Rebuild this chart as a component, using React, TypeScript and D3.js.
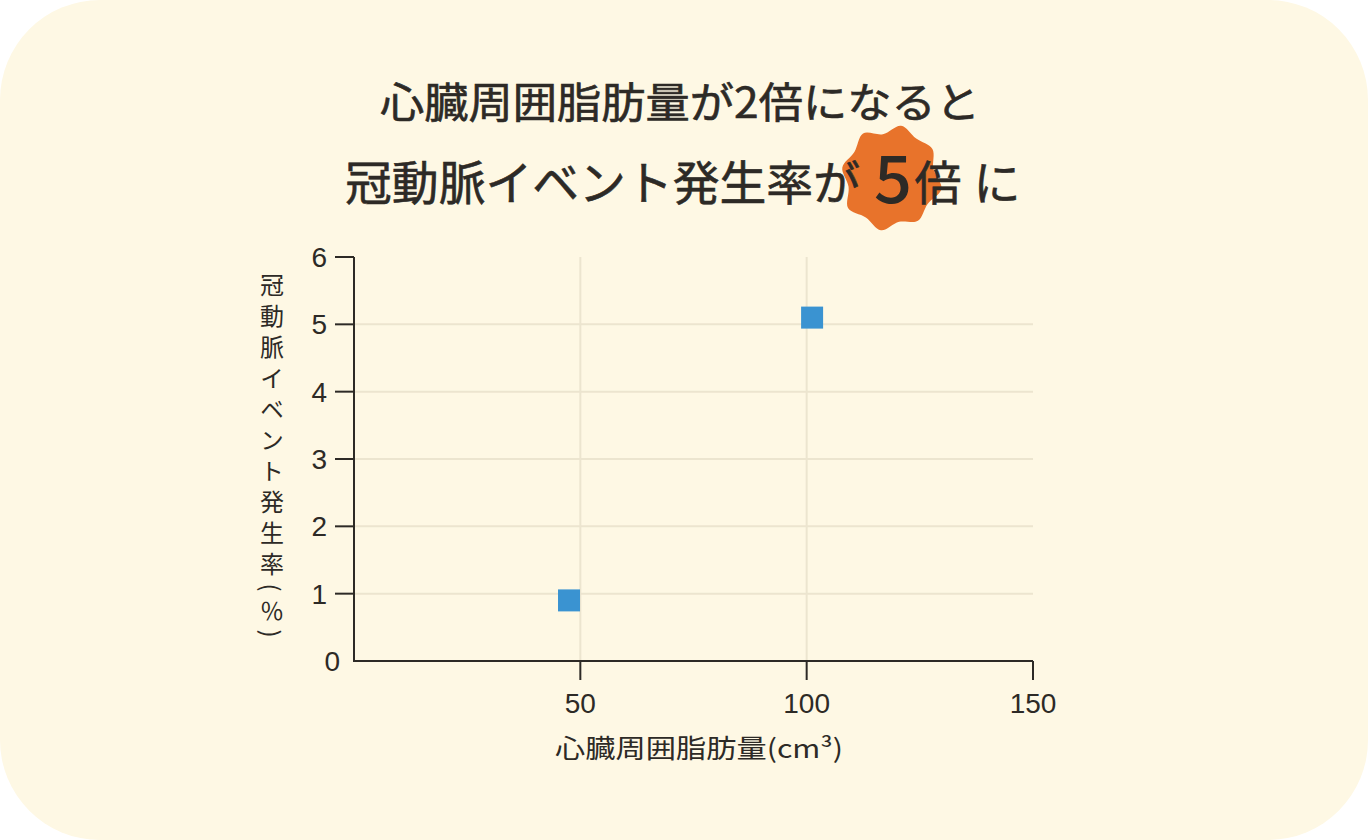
import React from 'react';
import * as d3 from 'd3';

// data
const points = [
  { fat: 47.5, rate: 0.9 },
  { fat: 101.2, rate: 5.1 },
];
const xTicks = [50, 100, 150];
const yTicks = [0, 1, 2, 3, 4, 5, 6];
const xGrid = [50, 100];
const yGrid = [1, 2, 3, 4, 5];

const titleLine1 = '心臓周囲脂肪量が2倍になると';
const titleLine2 = '冠動脈イベント発生率が';
const xLabel = '心臓周囲脂肪量(cm³)';
const yLabel = '冠動脈イベント発生率(％)';

// wobbly badge outline behind the "5"
const blobRadii = [55, 49, 54, 47, 56, 48, 53, 46, 55, 49, 56, 47, 54, 48, 55, 46];

const W = 1368;
const H = 840;
const left = 354;
const right = 1033;
const top = 257;
const bottom = 661;

const ink = '#2d2a26';
const gridColor = '#ece5cf';
const font = "'Noto Sans CJK JP', 'Noto Sans', sans-serif";
const numFont = "'Liberation Sans', Arial, sans-serif";

const App: React.FC = () => {
  const x = d3.scaleLinear().domain([0, 150]).range([left, right]);
  const y = d3.scaleLinear().domain([0, 6]).range([bottom, top]);

  const blob = d3
    .lineRadial<number>()
    .angle((d, i) => (i / blobRadii.length) * Math.PI * 2 + 0.2)
    .radius(d => d)
    .curve(d3.curveCatmullRomClosed.alpha(0.5))(blobRadii);

  const sq = 22;

  return (
    <svg width={W} height={H} style={{ position: 'absolute', left: 0, top: 0 }}>
      <rect x={0} y={0} width={W} height={H} fill="#ffffff" />
      <rect x={0} y={0} width={W} height={H} rx={100} ry={100} fill="#fef8e4" />

      {/* title */}
      <text x={680} y={118} textAnchor="middle" fontFamily={font} fontSize={42}
        fill={ink} textLength={600} lengthAdjust="spacingAndGlyphs"
        stroke={ink} strokeWidth={0.6}>
        {titleLine1}
      </text>
      <path d={blob || ''} transform="translate(891,178) scale(0.92,0.97)" fill="#e8732b" />
      <text x={345} y={200} fontFamily={font} fontSize={47} fill={ink}
        textLength={515} lengthAdjust="spacingAndGlyphs" stroke={ink} strokeWidth={0.6}>
        {titleLine2}
      </text>
      <text x={893} y={203} textAnchor="middle" fontFamily={font} fontSize={66} fontWeight={500}
        fill={ink} textLength={38} lengthAdjust="spacingAndGlyphs">
        5
      </text>
      <text x={938} y={200} textAnchor="middle" fontFamily={font} fontSize={47} fill={ink}
        stroke={ink} strokeWidth={0.6}>
        倍
      </text>
      <text x={997} y={200} textAnchor="middle" fontFamily={font} fontSize={47} fill={ink}
        stroke={ink} strokeWidth={0.6}>
        に
      </text>

      {/* grid */}
      {yGrid.map(v => (
        <line key={'gy' + v} x1={left} x2={right} y1={y(v)} y2={y(v)}
          stroke={gridColor} strokeWidth={2} />
      ))}
      {xGrid.map(v => (
        <line key={'gx' + v} x1={x(v)} x2={x(v)} y1={top} y2={bottom}
          stroke={gridColor} strokeWidth={2} />
      ))}

      {/* axes */}
      <path d={`M${left},${top}V${bottom}H${right}`} fill="none" stroke={ink} strokeWidth={2} />
      {yTicks.map(v => (
        <g key={'ty' + v}>
          {v > 0 && (
            <line x1={left - 19} x2={left} y1={y(v)} y2={y(v)} stroke={ink} strokeWidth={2} />
          )}
          <text x={v > 0 ? left - 27 : left - 14} y={y(v)} dy="0.36em" textAnchor="end"
            fontFamily={numFont} fontSize={28} fill={ink}>
            {v}
          </text>
        </g>
      ))}
      {xTicks.map(v => (
        <g key={'tx' + v}>
          <line x1={x(v)} x2={x(v)} y1={bottom} y2={bottom + 19} stroke={ink} strokeWidth={2} />
          <text x={x(v)} y={bottom + 52} textAnchor="middle" fontFamily={numFont}
            fontSize={28} fill={ink}>
            {v}
          </text>
        </g>
      ))}

      {/* axis titles */}
      <text x={555} y={758} fontFamily={font} fontSize={26} fill={ink}
        textLength={288} lengthAdjust="spacingAndGlyphs">
        {xLabel}
      </text>
      <text x={272} y={459} textAnchor="middle" fontFamily={font} fontSize={24} fill={ink}
        style={{ writingMode: 'vertical-rl', textOrientation: 'mixed', letterSpacing: '7px' }}>
        {yLabel}
      </text>

      {/* points */}
      {points.map((p, i) => (
        <rect key={i} x={x(p.fat) - sq / 2} y={y(p.rate) - sq / 2} width={sq} height={sq}
          fill="#3a93d1" />
      ))}
    </svg>
  );
};

export default App;
